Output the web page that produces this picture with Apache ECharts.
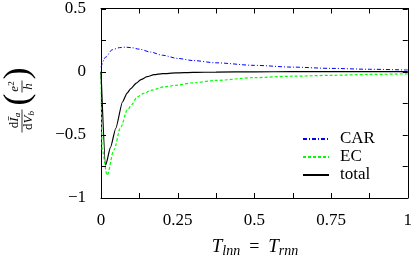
<!DOCTYPE html>
<html>
<head>
<meta charset="utf-8">
<script src="https://cdn.jsdelivr.net/npm/echarts@6/dist/echarts.min.js"></script>
<style>
html,body{margin:0;padding:0;background:#fff;}
#chart{width:415px;height:258px;}
</style>
</head>
<body>
<div id="chart"></div>
<script>
// ---- data ----
const seriesNames = ['CAR', 'EC', 'total'];
const xCAR = [0, 0.015, 0.037, 0.06, 0.08, 0.1, 0.125, 0.162, 0.2, 0.25, 0.3, 0.375, 0.5, 0.625, 0.75, 0.875, 1];
const yCAR = [0.036, 0.115, 0.174, 0.19, 0.194, 0.19, 0.178, 0.155, 0.13, 0.105, 0.088, 0.07, 0.05, 0.036, 0.026, 0.019, 0.013];
const xEC = [0, 0.004, 0.02, 0.042, 0.064, 0.086, 0.1, 0.118, 0.14, 0.162, 0.206, 0.244, 0.3, 0.375, 0.5, 0.625, 0.75, 0.875, 1];
const yEC = [0, -0.62, -0.82, -0.62, -0.44, -0.305, -0.26, -0.2, -0.172, -0.148, -0.12, -0.108, -0.088, -0.069, -0.047, -0.036, -0.029, -0.022, -0.017];
const xTot = [0, 0.015, 0.031, 0.048, 0.07, 0.085, 0.097, 0.115, 0.13, 0.15, 0.173, 0.2, 0.244, 0.3, 0.375, 0.5, 0.625, 0.75, 0.875, 1];
const yTot = [0, -0.74, -0.6, -0.45, -0.24, -0.17, -0.134, -0.09, -0.063, -0.04, -0.024, -0.016, -0.01, -0.006, -0.003, -0.001, 0, 0, 0, 0];
const xTickValues = [0, 0.125, 0.25, 0.375, 0.5, 0.625, 0.75, 0.875, 1];
const yTickValues = [-1, -0.75, -0.5, -0.25, 0, 0.25, 0.5];
const xTickLabels = [0, 0.25, 0.5, 0.75, 1];
const yTickLabels = [0.5, 0, -0.5, -1];

(function () {
const pair = (xs, ys) => xs.map((x, i) => [x, ys[i]]);
const FONT = '"Liberation Serif", "Times New Roman", serif';
const fmtNum = v => (v < 0 ? '\u2212' + String(-v) : String(v));
const X_MIN = 0, X_MAX = 1, Y_MIN = -1, Y_MAX = 0.5, TL = 5;

const chart = echarts.init(document.getElementById('chart'), null, {renderer: 'canvas'});

const axisLine = () => ({show: true, onZero: false, lineStyle: {color: '#000', width: 1}});
const noTick = () => ({show: false});

const tickLine = (x1, y1, x2, y2) => ({type: 'line', shape: {x1, y1, x2, y2}, style: {stroke: '#000', lineWidth: 1}});

const option = {
  animation: false,
  backgroundColor: '#fff',
  grid: {left: 101, right: 7, top: 8, bottom: 60, containLabel: false},
  xAxis: [{
    type: 'value', min: X_MIN, max: X_MAX, interval: 0.125, position: 'bottom',
    axisLine: axisLine(), axisTick: noTick(), splitLine: {show: false},
    axisLabel: {
      margin: 14, color: '#000', fontFamily: FONT, fontSize: 17,
      formatter: v => xTickLabels.some(t => Math.abs(t - v) < 1e-9) ? fmtNum(v) : ''
    }
  }, {
    type: 'value', min: X_MIN, max: X_MAX, interval: 0.125, position: 'top',
    axisLine: axisLine(), axisTick: noTick(), splitLine: {show: false},
    axisLabel: {show: false}
  }],
  yAxis: [{
    type: 'value', min: Y_MIN, max: Y_MAX, interval: 0.25, position: 'left',
    axisLine: axisLine(), axisTick: noTick(), splitLine: {show: false},
    axisLabel: {
      margin: 15, color: '#000', fontFamily: FONT, fontSize: 17,
      formatter: v => yTickLabels.some(t => Math.abs(t - v) < 1e-9) ? fmtNum(v) : ''
    }
  }, {
    type: 'value', min: Y_MIN, max: Y_MAX, interval: 0.25, position: 'right',
    axisLine: axisLine(), axisTick: noTick(), splitLine: {show: false},
    axisLabel: {show: false}
  }],
  legend: {
    show: true, orient: 'vertical', left: 302, top: 130, padding: 0,
    itemWidth: 26, itemHeight: 14, itemGap: 0,
    data: seriesNames,
    itemStyle: {opacity: 0},
    textStyle: {fontFamily: FONT, fontSize: 17, lineHeight: 18, color: '#000', padding: [0, 0, 0, 6]}
  },
  series: [{
    name: seriesNames[0], type: 'line', data: pair(xCAR, yCAR),
    showSymbol: false, symbol: 'none', smooth: 0.3, smoothMonotone: 'x',
    lineStyle: {color: '#0000ff', width: 1, type: [4, 2, 1, 2]},
    itemStyle: {color: '#0000ff'}, z: 3
  }, {
    name: seriesNames[1], type: 'line', data: pair(xEC, yEC),
    showSymbol: false, symbol: 'none', smooth: 0.3, smoothMonotone: 'x',
    lineStyle: {color: '#00ff00', width: 1.2, type: [3, 2]},
    itemStyle: {color: '#00ff00'}, z: 2
  }, {
    name: seriesNames[2], type: 'line', data: pair(xTot, yTot),
    showSymbol: false, symbol: 'none', smooth: 0.2, smoothMonotone: 'x',
    lineStyle: {color: '#000', width: 1.2, type: 'solid'},
    itemStyle: {color: '#000'}, z: 4
  }, {
    // mirrored inward x ticks (bottom and top), placed through the axis scale
    name: 'xticks', type: 'custom', silent: true, clip: false, z: 5,
    data: xTickValues.map(v => [v, Y_MIN]),
    renderItem: (params, api) => {
      const v = api.value(0);
      const b = api.coord([v, Y_MIN]);
      const t = api.coord([v, Y_MAX]);
      const x = Math.round(b[0]) + 0.5;
      return {type: 'group', children: [
        tickLine(x, b[1], x, b[1] - TL),
        tickLine(x, t[1], x, t[1] + TL)
      ]};
    }
  }, {
    // mirrored inward y ticks (left and right)
    name: 'yticks', type: 'custom', silent: true, clip: false, z: 5,
    data: yTickValues.map(v => [X_MIN, v]),
    renderItem: (params, api) => {
      const v = api.value(1);
      const l = api.coord([X_MIN, v]);
      const r = api.coord([X_MAX, v]);
      const y = Math.round(l[1]) + 0.5;
      return {type: 'group', children: [
        tickLine(l[0], y, l[0] + TL, y),
        tickLine(r[0], y, r[0] - TL, y)
      ]};
    }
  }],
  graphic: [
    {
      id: 'xTitle', type: 'text', x: 255, y: 247, z: 10,
      style: {
        text: '{i|T}{s|lnn}{r|  =  }{i|T}{s|rnn}',
        align: 'center', verticalAlign: 'middle',
        fill: '#000',
        rich: {
          i: {fontFamily: FONT, fontStyle: 'italic', fontSize: 19, lineHeight: 22},
          r: {fontFamily: FONT, fontSize: 18, lineHeight: 22},
          s: {fontFamily: FONT, fontStyle: 'italic', fontSize: 14, lineHeight: 11, verticalAlign: 'bottom'}
        }
      }
    },
    {
      id: 'yTitle', type: 'group', x: 21, y: 101.5, rotation: Math.PI / 2, z: 10,
      children: [
        {type: 'text', x: -19, y: -6.5, style: {
          text: '{r|d}{i|\u012A}{s|a}', align: 'center', verticalAlign: 'middle', fill: '#000',
          rich: {
            r: {fontFamily: FONT, fontSize: 13, lineHeight: 15},
            i: {fontFamily: FONT, fontStyle: 'italic', fontSize: 13, lineHeight: 15},
            s: {fontFamily: FONT, fontStyle: 'italic', fontSize: 9, lineHeight: 7, verticalAlign: 'bottom'}
          }}},
        {type: 'line', shape: {x1: -31, y1: 1, x2: -8, y2: 1}, style: {stroke: '#000', lineWidth: 0.8}},
        {type: 'text', x: -19, y: 8, style: {
          text: '{r|d}{i|V}{s|b}', align: 'center', verticalAlign: 'middle', fill: '#000',
          rich: {
            r: {fontFamily: FONT, fontSize: 13, lineHeight: 15},
            i: {fontFamily: FONT, fontStyle: 'italic', fontSize: 13, lineHeight: 15},
            s: {fontFamily: FONT, fontStyle: 'italic', fontSize: 9, lineHeight: 7, verticalAlign: 'bottom'}
          }}},
        {type: 'text', x: 2, y: -2, style: {text: '(', align: 'center', verticalAlign: 'middle', fill: '#000', fontFamily: FONT, fontSize: 36}},
        {type: 'text', x: 15, y: -6.5, style: {
          text: '{i|e}{p|2}', align: 'center', verticalAlign: 'middle', fill: '#000',
          rich: {
            i: {fontFamily: FONT, fontStyle: 'italic', fontSize: 13, lineHeight: 15},
            p: {fontFamily: FONT, fontSize: 9, lineHeight: 7, verticalAlign: 'top'}
          }}},
        {type: 'line', shape: {x1: 9, y1: 1, x2: 21, y2: 1}, style: {stroke: '#000', lineWidth: 0.8}},
        {type: 'text', x: 15, y: 8, style: {text: 'h', align: 'center', verticalAlign: 'middle', fill: '#000', fontFamily: FONT, fontStyle: 'italic', fontSize: 13}},
        {type: 'text', x: 28, y: -2, style: {text: ')', align: 'center', verticalAlign: 'middle', fill: '#000', fontFamily: FONT, fontSize: 36}}
      ]
    }
  ]
};
chart.setOption(option);
})();
</script>
</body>
</html>
